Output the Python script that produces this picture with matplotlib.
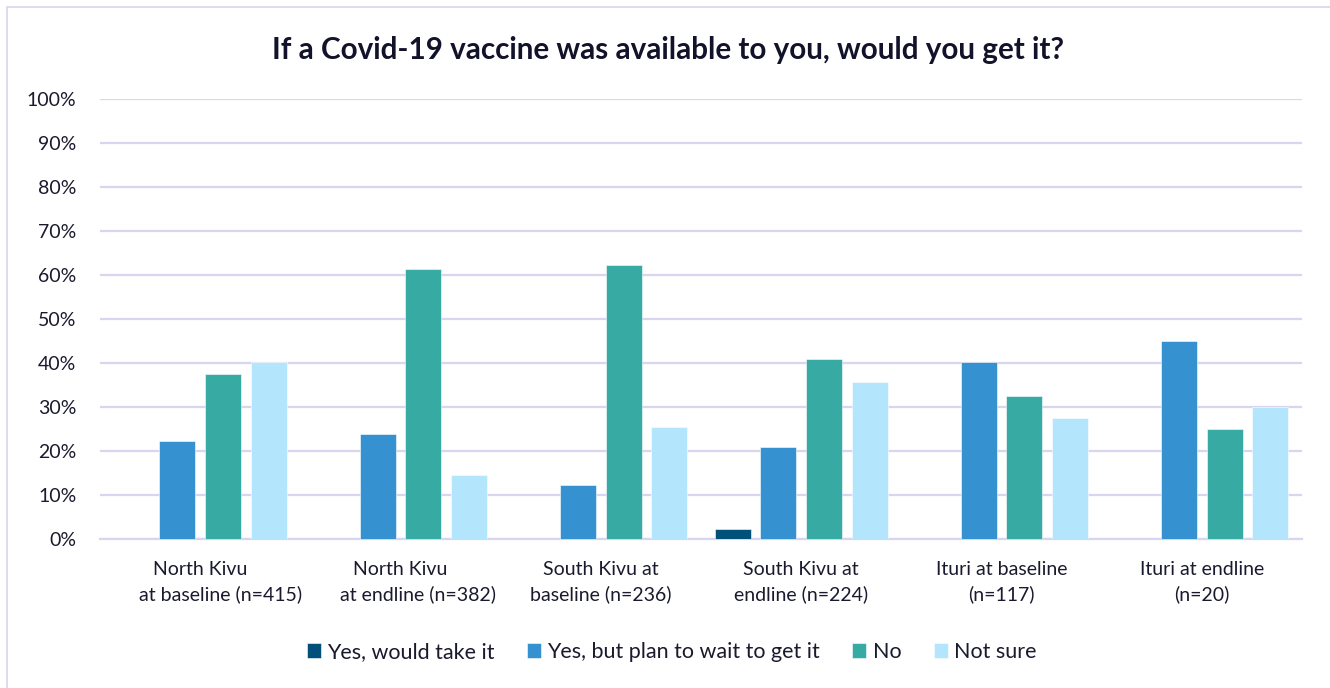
import numpy as np
import matplotlib.pyplot as plt
from matplotlib.patches import Rectangle

plt.rcParams["font.family"] = ["Lato", "DejaVu Sans"]

# survey responses, % of respondents per area/round
groups = [
    "North Kivu\n        at baseline (n=415)",
    "North Kivu\n       at endline (n=382)",
    "South Kivu at\nbaseline (n=236)",
    "South Kivu at\nendline (n=224)",
    "Ituri at baseline\n(n=117)",
    "Ituri at endline\n(n=20)",
]
series = ["Yes, would take it", "Yes, but plan to wait to get it", "No", "Not sure"]
yes_now = [0.0, 0.0, 0.0, 2.3, 0.0, 0.0]
yes_wait = [22.3, 23.8, 12.3, 20.9, 40.2, 45.0]
no = [37.6, 61.4, 62.3, 41.0, 32.5, 25.0]
not_sure = [40.2, 14.6, 25.4, 35.7, 27.4, 30.0]
colors = ["#01507A", "#3591CF", "#36AAA3", "#B3E5FC"]
txt = "#1A1A2E"

fig = plt.figure(figsize=(13.3, 6.88), dpi=100)
ax = fig.add_axes([0.0752, 0.2166, 0.9038, 0.6394])

# outer chart frame
fig.patches.append(Rectangle((0.005, -0.01), 1.1, 1.0, transform=fig.transFigure,
                             fill=False, edgecolor="#D9D4EF", linewidth=1.2))

x = np.arange(len(groups))
step = 0.2275
width = 0.18
for i, (vals, name) in enumerate(zip([yes_now, yes_wait, no, not_sure], series)):
    ax.bar(x + (i - 1.5) * step, vals, width, color=colors[i], label=name,
           edgecolor="white", linewidth=0.4, zorder=3)

ax.set_xlim(-0.5, len(groups) - 0.5)
ax.set_ylim(0, 100)
ax.set_yticks(np.arange(0, 101, 10))
ax.set_yticklabels([f"{v}%" for v in range(0, 101, 10)], fontsize=14, color=txt)
ax.set_xticks(x)
ax.set_xticklabels(groups, fontsize=14, color=txt, linespacing=1.5)
ax.tick_params(length=0)
ax.tick_params(axis="y", pad=17)
ax.tick_params(axis="x", pad=16)
ax.grid(axis="y", color="#D9D4EF", linewidth=1.6, zorder=0)
for s in ["top", "right", "left"]:
    ax.spines[s].set_visible(False)
ax.spines["bottom"].set_color("#D9D4EF")
ax.spines["bottom"].set_linewidth(1.6)

fig.text(0.502, 0.928, "If a Covid-19 vaccine was available to you, would you get it?",
         ha="center", va="center", fontsize=21.3, fontweight="bold", color="#12122A")

fig.legend(loc="center", bbox_to_anchor=(0.505, 0.052), ncol=4, frameon=False,
           fontsize=15.5, handlelength=0.65, handleheight=0.65, handletextpad=0.3,
           columnspacing=1.5, labelcolor=txt)

fig.savefig("out.png", dpi=100)
